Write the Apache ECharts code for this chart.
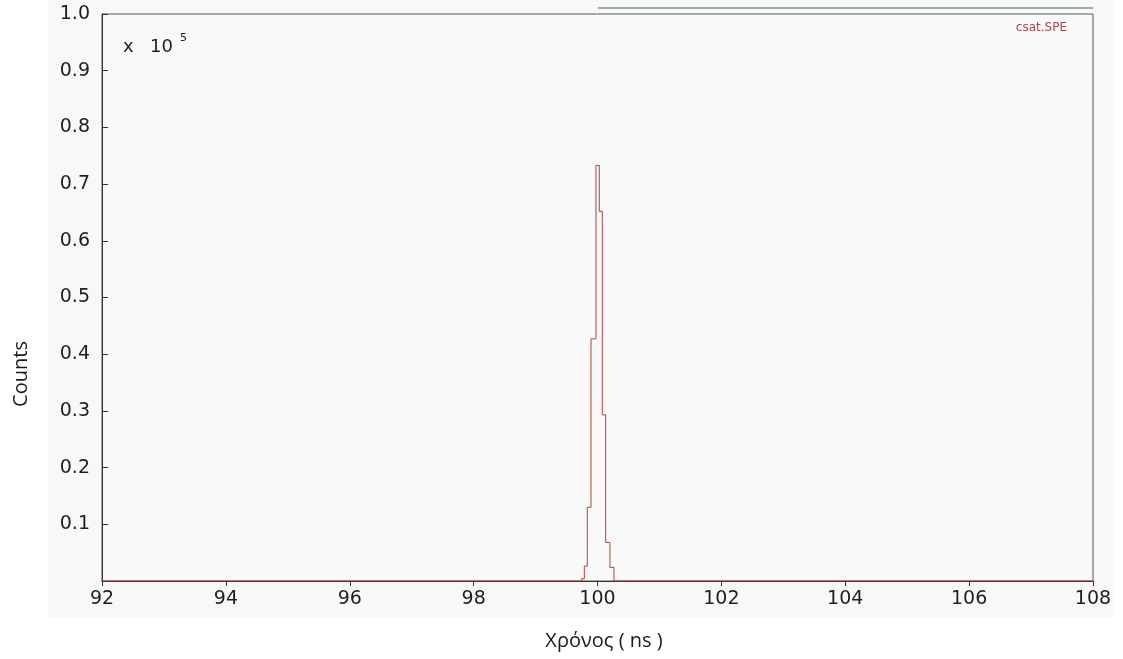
<!DOCTYPE html>
<html>
<head>
<meta charset="utf-8">
<script src="https://cdn.jsdelivr.net/npm/echarts@6/dist/echarts.min.js"></script>
<style>
html,body{margin:0;padding:0;background:#ffffff;}
#chart{width:1123px;height:659px;}
</style>
</head>
<body>
<div id="chart"></div>
<script>
// Histogram bins (left edges, ns) and counts (x 10^5)
const binEdges = [99.745, 99.787, 99.835, 99.895, 99.975, 100.029, 100.077, 100.132, 100.201, 100.266];
const binCounts = [0.004, 0.026, 0.13, 0.427, 0.733, 0.652, 0.293, 0.068, 0.024];
const xRange = [92, 108];
const xTicks = [92, 94, 96, 98, 100, 102, 104, 106, 108];
const yTicks = [0.1, 0.2, 0.3, 0.4, 0.5, 0.6, 0.7, 0.8, 0.9, 1.0];

const stepData = [[xRange[0], 0]];
for (let i = 0; i < binCounts.length; i++) {
  stepData.push([binEdges[i], binCounts[i]]);
}
stepData.push([binEdges[binEdges.length - 1], 0]);
stepData.push([xRange[1], 0]);

const chart = echarts.init(document.getElementById('chart'), null, {renderer: 'canvas'});
const tickFont = {fontFamily: 'DejaVu Sans', fontSize: 19, color: '#1e1e1e'};

chart.setOption({
  animation: false,
  backgroundColor: '#ffffff',
  grid: {
    left: 102, right: 30, top: 14, bottom: 78,
    show: true, backgroundColor: '#f9f9f9', borderColor: '#555', borderWidth: 1
  },
  xAxis: {
    type: 'value', min: xRange[0], max: xRange[1], interval: 2,
    axisLine: {show: true, onZero: false, lineStyle: {color: '#333', width: 1}},
    axisTick: {show: true, inside: false, length: 5, lineStyle: {color: '#333'}},
    splitLine: {show: false},
    axisLabel: Object.assign({
      margin: 9, showMinLabel: true, showMaxLabel: true,
      formatter: function (v) {
        const t = xTicks.find(function (k) { return Math.abs(k - v) < 1e-6; });
        return t === undefined ? '' : String(t);
      }
    }, tickFont)
  },
  yAxis: {
    type: 'value', min: 0, max: 1, interval: 0.1,
    axisLine: {show: true, lineStyle: {color: '#333', width: 1}},
    axisTick: {show: true, inside: true, length: 6, lineStyle: {color: '#333'}},
    splitLine: {show: false},
    axisLabel: Object.assign({
      margin: 12,
      formatter: function (v) {
        const t = yTicks.find(function (k) { return Math.abs(k - v) < 1e-6; });
        return t === undefined ? '' : t.toFixed(1);
      }
    }, tickFont)
  },
  series: [{
    type: 'line', step: 'end', data: stepData, showSymbol: false,
    lineStyle: {color: '#b5403c', width: 1}, z: 5
  }],
  graphic: [
    {type: 'rect', z: -10, silent: true, shape: {x: 48, y: 0, width: 1065, height: 617}, style: {fill: '#f8f8f8'}},
    {type: 'line', shape: {x1: 598, y1: 8, x2: 1093, y2: 8}, style: {stroke: '#3a6175', lineWidth: 1}},
    {type: 'text', x: 1067, y: 28, style: {text: 'csat.SPE', font: '12px "DejaVu Sans"', fill: '#a44a4a', textAlign: 'right', textVerticalAlign: 'middle'}},
    {type: 'text', x: 123, y: 47, style: {text: 'x', font: '18px "DejaVu Sans"', fill: '#1e1e1e', textAlign: 'left', textVerticalAlign: 'middle'}},
    {type: 'text', x: 150, y: 47, style: {text: '10', font: '18px "DejaVu Sans"', fill: '#1e1e1e', textAlign: 'left', textVerticalAlign: 'middle'}},
    {type: 'text', x: 180, y: 38, style: {text: '5', font: '11px "DejaVu Sans"', fill: '#1e1e1e', textAlign: 'left', textVerticalAlign: 'middle'}},
    {type: 'text', x: 604, y: 641, style: {text: 'Χρόνος ( ns )', font: '20px "Open Sans"', fill: '#1a1a1a', textAlign: 'center', textVerticalAlign: 'middle'}},
    {type: 'text', x: 21, y: 374, rotation: Math.PI / 2, style: {text: 'Counts', font: '20px "Open Sans"', fill: '#1a1a1a', textAlign: 'center', textVerticalAlign: 'middle'}}
  ]
});
</script>
</body>
</html>
